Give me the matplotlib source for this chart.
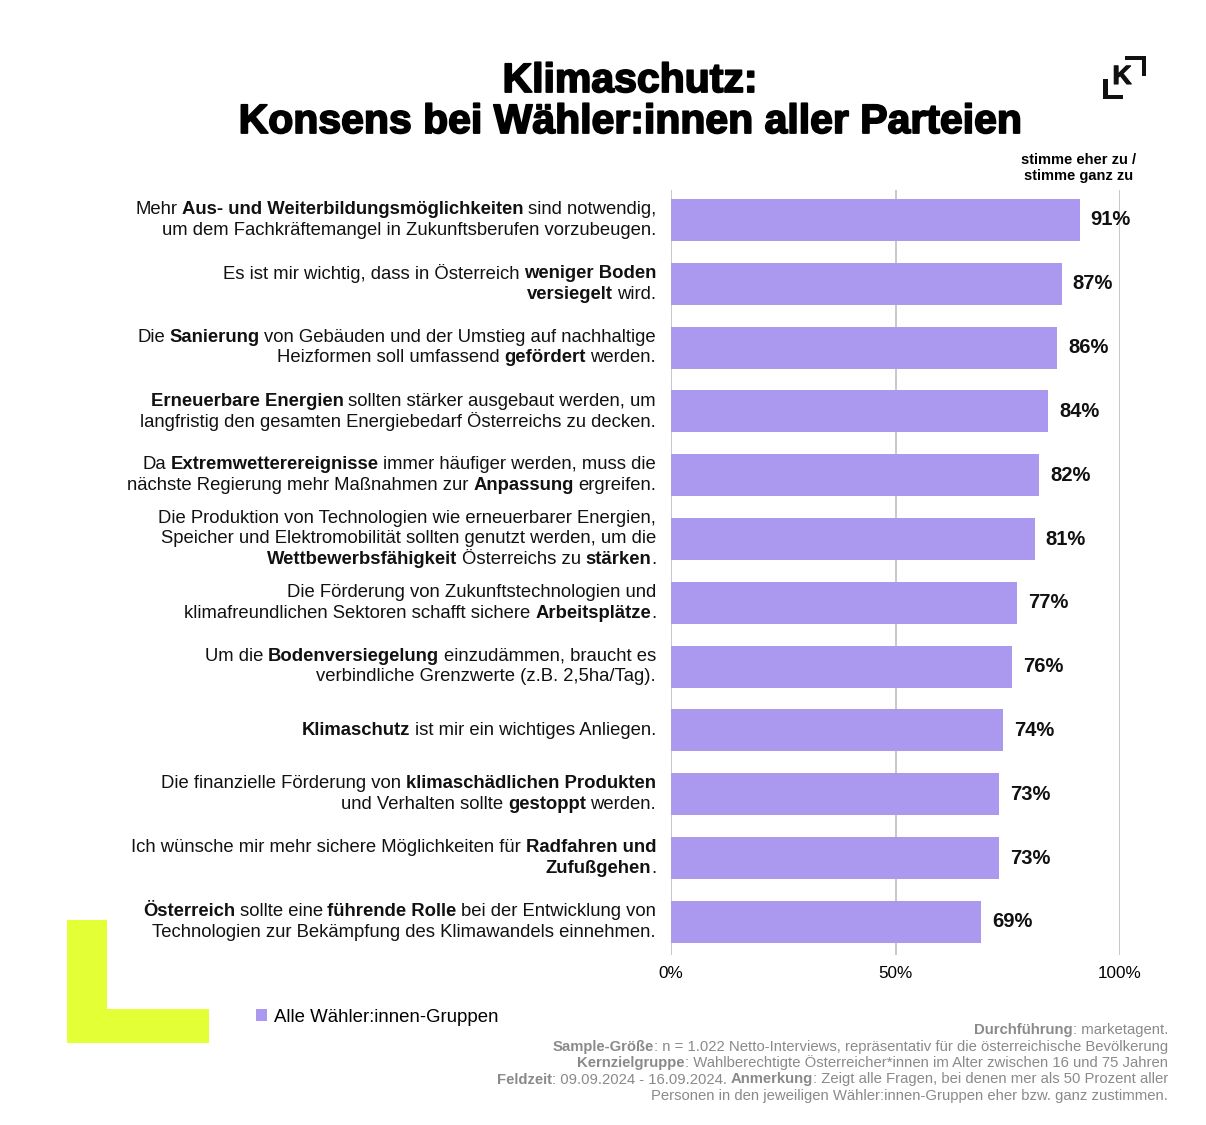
import matplotlib
matplotlib.use('Agg')
from matplotlib import pyplot as plt
from matplotlib.patches import Rectangle
from matplotlib import patheffects

plt.rcParams['font.family'] = ['Liberation Sans', 'DejaVu Sans']

# ---- data (bold parts marked with **) ----
statements = [
    "Mehr **Aus- und Weiterbildungsmöglichkeiten** sind notwendig,\num dem Fachkräftemangel in Zukunftsberufen vorzubeugen.",
    "Es ist mir wichtig, dass in Österreich **weniger Boden**\n**versiegelt** wird.",
    "Die **Sanierung** von Gebäuden und der Umstieg auf nachhaltige\nHeizformen soll umfassend **gefördert** werden.",
    "**Erneuerbare Energien** sollten stärker ausgebaut werden, um\nlangfristig den gesamten Energiebedarf Österreichs zu decken.",
    "Da **Extremwetterereignisse**  immer häufiger werden, muss die\nnächste Regierung mehr Maßnahmen zur **Anpassung** ergreifen.",
    "Die Produktion von Technologien wie erneuerbarer Energien,\nSpeicher und Elektromobilität sollten genutzt werden, um die\n**Wettbewerbsfähigkeit** Österreichs zu **stärken**.",
    "Die Förderung von Zukunftstechnologien und\nklimafreundlichen Sektoren schafft sichere **Arbeitsplätze**.",
    "Um die **Bodenversiegelung** einzudämmen, braucht es\nverbindliche Grenzwerte (z.B. 2,5ha/Tag).",
    "**Klimaschutz** ist mir ein wichtiges Anliegen.",
    "Die finanzielle Förderung von **klimaschädlichen Produkten**\nund Verhalten sollte **gestoppt** werden.",
    "Ich wünsche mir mehr sichere Möglichkeiten für **Radfahren und**\n**Zufußgehen**.",
    "**Österreich** sollte eine **führende Rolle** bei der Entwicklung von\nTechnologien zur Bekämpfung des Klimawandels einnehmen.",
]
agree = [91, 87, 86, 84, 82, 81, 77, 76, 74, 73, 73, 69]
xticks = [0, 50, 100]
xticklabels = ['0%', '50%', '100%']
series_name = 'Alle Wähler:innen-Gruppen'
title_lines = ['Klimaschutz:', 'Konsens bei Wähler:innen aller Parteien']
header = 'stimme eher zu /\nstimme ganz zu'
footer = [
    "**Durchführung**: marketagent.",
    "**Sample-Größe**: n = 1.022 Netto-Interviews, repräsentativ für die österreichische Bevölkerung",
    "**Kernzielgruppe**: Wahlberechtigte Österreicher*innen im Alter zwischen 16 und 75 Jahren",
    "**Feldzeit**: 09.09.2024 - 16.09.2024. **Anmerkung**: Zeigt alle Fragen, bei denen mer als 50 Prozent aller",
    "Personen in den jeweiligen Wähler:innen-Gruppen eher bzw. ganz zustimmen.",
]

W, H = 1206, 1125
bar_color = '#ab99f0'
fig = plt.figure(figsize=(W / 100, H / 100), dpi=100)


def P(x, y):
    # pixel position (from top-left) -> figure fraction
    return x / W, 1 - y / H


ax = fig.add_axes([671 / W, 1 - 955 / H, (1120 - 671) / W, (955 - 190) / H])
pos = list(range(len(agree)))
bars = ax.barh(pos, agree, height=0.66, color=bar_color, label=series_name, zorder=2)
for x in xticks:
    ax.axvline(x, color='#c4c4c4', lw=1.3, zorder=1)
for p, v in zip(pos, agree):
    ax.annotate(f'{v}%', xy=(v, p), xytext=(8, 0), textcoords='offset points',
                ha='left', va='center', fontsize=14.5, fontweight='bold', color='#111111')
ax.set_xlim(0, 100)
ax.set_ylim(11.52, -0.47)
ax.set_xticks(xticks, xticklabels)
ax.set_yticks([])
ax.tick_params(axis='x', length=0, pad=8, labelsize=12.3)
for s in ax.spines.values():
    s.set_visible(False)


def rich_line(x, y, line, size, color, gap):
    parts = [(t, k % 2 == 1) for k, t in enumerate(line.split('**')) if t != '']
    prev = None
    prev_lead = False
    for text, bold in reversed(parts):
        s = text.strip()
        fw = 'bold' if bold else 'normal'
        if prev is None:
            t = ax.annotate(s, xy=(x, y), xycoords='figure fraction', ha='right', va='center',
                            fontsize=size, fontweight=fw, color=color, annotation_clip=False)
        else:
            g = gap if (text.endswith(' ') or prev_lead) else 0
            t = ax.annotate(s, xy=(0, 0.5), xycoords=prev, xytext=(-g, 0), textcoords='offset points',
                            ha='right', va='center', fontsize=size, fontweight=fw, color=color,
                            annotation_clip=False)
        prev = t
        prev_lead = text.startswith(' ')


# category labels, right aligned left of the axis
for p, st in zip(pos, statements):
    lines = st.split('\n')
    yc = 220 + p * 63.8
    for j, ln in enumerate(lines):
        yl = yc + (j - (len(lines) - 1) / 2) * 20.8
        rich_line(656 / W, 1 - yl / H, ln, 13.3, '#111111', 3.3)

# footer
for j, ln in enumerate(footer):
    rich_line(1168 / W, 1 - (1030 + j * 16.5) / H, ln, 10.7, '#8a8a8a', 2.8)

# title and header
heavy = [patheffects.withStroke(linewidth=1.3, foreground='black')]
for j, t in enumerate(title_lines):
    fig.text(*P(630, 81 + j * 41), t, ha='center', va='center', fontsize=29.5, fontweight='bold',
             path_effects=heavy)
fig.text(*P(1079, 168), header, ha='center', va='center', fontsize=10.5, fontweight='bold',
         linespacing=1.15)

# legend
fig.legend(handles=[bars], labels=[series_name], loc='center left',
           bbox_to_anchor=P(256, 1017), frameon=False, handlelength=0.6, handleheight=0.6,
           handletextpad=0.35, fontsize=13.4, borderpad=0, borderaxespad=0)

# yellow L decoration
for (x0, y0, x1, y1) in [(67, 920, 107, 1043), (67, 1009, 209, 1043)]:
    fig.add_artist(Rectangle(P(x0, y1), (x1 - x0) / W, (y1 - y0) / H,
                             transform=fig.transFigure, color='#e3ff36', lw=0))

# logo
for (x0, y0, x1, y1) in [(1103, 79, 1107.5, 99), (1103, 95, 1123, 99),
                         (1125, 56, 1146, 60), (1141.5, 56, 1146, 76)]:
    fig.add_artist(Rectangle(P(x0, y1), (x1 - x0) / W, (y1 - y0) / H,
                             transform=fig.transFigure, color='#111111', lw=0))
fig.text(*P(1122, 77), 'K', ha='center', va='center', fontsize=19, fontweight='bold', color='#111111',
         path_effects=[patheffects.withStroke(linewidth=0.8, foreground='#111111')])

plt.savefig('out.png', dpi=100)
